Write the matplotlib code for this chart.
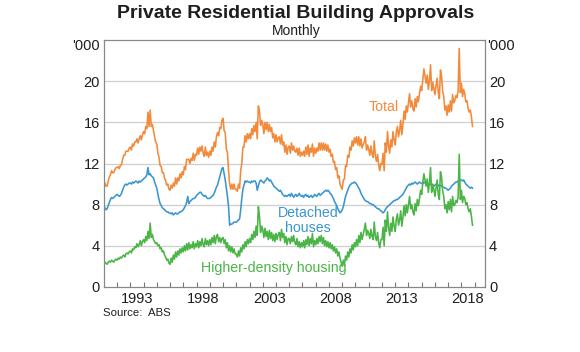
import numpy as np
import matplotlib
matplotlib.use("Agg")
import matplotlib.pyplot as plt
from matplotlib.ticker import FixedLocator

plt.rcParams["font.family"] = ["Liberation Sans", "DejaVu Sans"]

# monthly private approvals, '000, Jan 1991 - Nov 2018
houses = [
    7.9, 7.7, 7.5, 7.6, 7.9, 8.2, 8.5, 8.7, 8.6, 8.7, 8.8, 8.9,          # 1991
    9.0, 8.9, 8.8, 8.9, 9.1, 9.4, 9.7, 9.9, 10.0, 9.9, 10.0, 10.1,       # 1992
    10.1, 10.0, 10.2, 10.1, 10.2, 10.3, 10.2, 10.1, 10.3, 10.2, 10.3, 10.4,
    10.5, 10.6, 10.7, 10.9, 11.6, 10.9, 11.0, 10.8, 10.7, 10.6, 10.2, 9.9,
    9.6, 9.0, 8.5, 8.1, 7.9, 7.7, 7.6, 7.5, 7.4, 7.3, 7.3, 7.2,          # 1995
    7.2, 7.1, 7.2, 7.0, 7.1, 7.2, 7.1, 7.1, 7.2, 7.3, 7.3, 7.4,
    7.5, 7.7, 7.9, 8.2, 8.8, 8.1, 8.3, 8.4, 8.5, 8.6, 8.6, 8.7,
    8.9, 9.0, 9.1, 9.2, 9.2, 9.0, 8.9, 8.8, 8.9, 8.7, 8.6, 8.6,
    8.6, 8.7, 8.8, 8.9, 9.1, 9.4, 9.7, 9.9, 10.3, 10.7, 11.1, 11.5,
    11.6, 11.0, 10.4, 9.6, 8.8, 7.8, 6.0, 6.1, 6.1, 6.2, 6.3, 6.3,       # 2000
    6.3, 6.4, 6.5, 6.6, 7.5, 8.6, 9.5, 9.9, 10.3, 10.2, 10.3, 10.2,
    10.2, 10.1, 10.3, 10.2, 10.3, 10.3, 10.1, 9.4, 9.8, 10.2, 10.4, 10.3,
    10.2, 10.1, 10.3, 10.4, 10.6, 10.5, 10.3, 10.4, 10.2, 10.0, 9.8, 9.7,
    9.6, 9.5, 9.4, 9.3, 9.4, 9.2, 9.0, 8.9, 8.8, 8.9, 8.8, 8.9,
    9.0, 8.8, 9.1, 8.9, 8.7, 8.9, 9.0, 8.8, 8.9, 9.1, 8.9, 8.8,          # 2005
    8.9, 8.7, 8.9, 9.0, 8.8, 8.9, 8.7, 8.8, 8.9, 8.7, 8.8, 9.0,
    8.9, 8.8, 9.0, 9.1, 8.9, 9.0, 9.1, 9.2, 9.3, 9.4, 9.3, 9.4,
    9.3, 9.1, 9.0, 8.8, 8.6, 8.3, 8.1, 7.9, 7.6, 7.4, 7.2, 7.3,
    7.5, 7.8, 8.3, 8.8, 9.1, 9.4, 9.7, 9.9, 10.0, 10.1, 10.1, 10.2,
    10.1, 10.0, 9.8, 9.6, 9.4, 9.1, 8.9, 8.7, 8.5, 8.4, 8.3, 8.3,        # 2010
    8.2, 8.1, 8.1, 8.0, 8.0, 7.9, 7.8, 7.7, 7.6, 7.6, 7.5, 7.4,
    7.3, 7.2, 7.3, 7.5, 7.7, 7.8, 7.9, 8.0, 8.1, 8.2, 8.3, 8.4,
    8.4, 8.5, 8.5, 8.6, 8.7, 8.8, 8.9, 9.0, 9.2, 9.4, 9.6, 9.8,
    9.9, 10.0, 9.9, 10.1, 10.0, 10.1, 10.2, 10.1, 10.0, 10.1, 10.2, 10.1,
    10.1, 10.0, 10.2, 10.1, 10.0, 10.1, 10.0, 9.9, 10.0, 9.9, 9.9, 9.8,  # 2015
    9.9, 10.0, 9.9, 9.9, 9.8, 9.9, 9.8, 9.7, 9.7, 9.6, 9.6, 9.5,
    9.4, 9.5, 9.6, 9.8, 9.9, 10.0, 10.1, 10.2, 10.2, 10.3, 10.3, 10.4,
    10.4, 10.3, 10.4, 10.2, 10.0, 9.9, 9.8, 9.7, 9.6, 9.7, 9.6,          # 2018
]

dense = [
    2.2, 2.4, 2.3, 2.2, 2.4, 2.5, 2.4, 2.6, 2.5, 2.4, 2.6, 2.7,          # 1991
    2.6, 2.8, 2.7, 2.9, 2.8, 3.0, 3.1, 2.9, 3.2, 3.3, 3.2, 3.4,
    3.5, 3.3, 3.7, 3.6, 3.9, 3.8, 4.2, 3.9, 4.1, 4.5, 4.0, 4.4,
    4.6, 4.3, 4.9, 4.5, 5.4, 4.7, 6.2, 4.8, 5.1, 4.6, 4.4, 4.2,
    4.3, 4.0, 4.1, 3.7, 3.8, 3.4, 3.5, 3.1, 2.9, 2.6, 2.7, 2.3,          # 1995
    2.2, 2.8, 2.4, 3.1, 2.7, 3.4, 2.9, 3.5, 3.1, 3.7, 3.3, 3.8,
    3.4, 4.0, 3.5, 4.2, 3.6, 4.3, 3.7, 4.1, 3.8, 4.4, 3.7, 4.2,
    3.9, 4.5, 3.8, 4.4, 4.0, 4.7, 4.1, 3.9, 4.7, 4.1, 4.5, 4.0,
    4.6, 4.1, 4.8, 4.3, 5.0, 4.2, 4.9, 5.1, 4.4, 4.8, 4.3, 4.7,
    4.8, 4.2, 4.6, 3.8, 4.3, 3.5, 4.0, 3.4, 3.9, 3.3, 3.7, 3.2,          # 2000
    3.2, 2.9, 3.5, 3.0, 3.8, 3.4, 4.1, 3.7, 4.4, 3.9, 4.6, 4.2,
    4.7, 4.3, 5.1, 4.6, 5.4, 4.8, 5.9, 5.0, 7.8, 6.9, 5.3, 5.9,
    5.6, 4.8, 5.7, 4.9, 5.4, 4.6, 5.5, 4.7, 5.3, 4.5, 5.1, 4.4,
    5.2, 4.6, 5.1, 5.3, 4.5, 5.6, 4.8, 5.2, 4.3, 4.9, 4.1, 4.7,
    4.7, 4.2, 4.9, 4.4, 5.0, 4.3, 4.1, 4.7, 3.9, 4.4, 3.8, 4.3,          # 2005
    3.9, 4.5, 3.8, 4.6, 4.1, 4.9, 4.0, 4.7, 4.2, 5.2, 3.9, 4.5,
    4.1, 4.7, 4.2, 4.9, 4.4, 5.0, 4.2, 4.8, 4.0, 4.5, 3.9, 4.4,
    3.8, 4.3, 3.7, 4.1, 3.5, 3.9, 3.3, 3.7, 3.0, 3.4, 2.8, 2.4,
    2.0, 2.6, 2.2, 3.0, 2.6, 3.4, 2.9, 3.7, 3.3, 4.1, 3.6, 4.3,
    3.9, 4.6, 4.0, 5.0, 4.3, 5.3, 4.6, 5.1, 5.6, 6.2, 5.0, 5.5,          # 2010
    5.2, 4.7, 5.6, 4.9, 4.6, 6.3, 4.9, 4.5, 5.3, 4.3, 3.8, 4.6,
    4.6, 5.8, 4.0, 6.5, 5.4, 7.3, 5.8, 5.0, 6.2, 5.4, 6.8, 5.9,
    5.4, 6.6, 7.1, 6.0, 6.5, 7.4, 5.9, 6.8, 7.9, 6.9, 8.0, 7.2,
    8.0, 8.8, 7.6, 8.0, 7.3, 7.0, 8.1, 7.4, 8.5, 7.9, 8.6, 9.4,
    9.0, 10.2, 11.0, 10.4, 9.8, 10.5, 9.2, 10.1, 11.6, 9.2, 10.0, 9.5,   # 2015
    8.8, 9.6, 10.4, 9.0, 8.5, 11.2, 10.7, 9.3, 8.8, 7.6, 8.0, 7.2,
    8.3, 7.5, 8.5, 7.3, 8.8, 7.9, 8.0, 8.4, 8.2, 8.8, 12.9, 8.5,
    9.4, 8.2, 8.8, 8.6, 8.0, 8.2, 7.6, 7.3, 7.6, 6.9, 6.0,               # 2018
]

houses = np.array(houses)
dense = np.array(dense)
total = houses + dense
dates = 1991 + np.arange(len(houses)) / 12

year_labels = ["1993", "1998", "2003", "2008", "2013", "2018"]
y_ticks = [0, 4, 8, 12, 16, 20]

c_total = "#f28a3c"
c_house = "#3a96cf"
c_dense = "#4bb446"
ink = "#1e1e1e"

fig = plt.figure(figsize=(5.8, 3.52), dpi=100)
ax = fig.add_axes([0.179, 0.185, 0.657, 0.701])

ax.plot(dates, total, color=c_total, lw=1.15)
ax.plot(dates, houses, color=c_house, lw=1.15)
ax.plot(dates, dense, color=c_dense, lw=1.15)

ax.set_xlim(1991, 2019.77)
ax.set_ylim(0, 24)

ax.set_yticks(y_ticks)
ax.tick_params(axis="y", length=0, labelsize=10.5, pad=3,
               labelleft=True, labelright=True, colors=ink)
for v in [4, 8, 12, 16, 20]:
    ax.axhline(v, color="#cfcfcf", lw=0.9, zorder=0)

ax.xaxis.set_major_locator(FixedLocator(range(1992, 2020)))
ax.xaxis.set_minor_locator(FixedLocator([int(y) + 0.5 for y in year_labels]))
ax.set_xticklabels([], minor=False)
ax.set_xticklabels(year_labels, minor=True)
ax.tick_params(axis="x", which="major", direction="in", length=3.5,
               color="#777777", width=0.8)
ax.tick_params(axis="x", which="minor", length=0, labelsize=10.5, pad=4,
               colors=ink)

for s in ax.spines.values():
    s.set_color("#888888")
    s.set_linewidth(0.9)

ax.text(-0.010, 23.4, "'000", transform=ax.get_yaxis_transform(),
        ha="right", va="center", fontsize=10.5, color=ink)
ax.text(1.006, 23.4, "'000", transform=ax.get_yaxis_transform(),
        ha="left", va="center", fontsize=10.5, color=ink)

ax.text(2012.1, 17.5, "Total", color=c_total, fontsize=10.2,
        ha="center", va="center")
ax.text(2006.4, 6.5, "Detached\nhouses", color=c_house, fontsize=10.2,
        ha="center", va="center", linespacing=1.1)
ax.text(2003.85, 1.85, "Higher-density housing", color=c_dense, fontsize=10.2,
        ha="center", va="center")

fig.text(0.510, 0.962, "Private Residential Building Approvals",
         ha="center", va="center", fontsize=14, fontweight="bold", color=ink)
fig.text(0.510, 0.912, "Monthly", ha="center", va="center", fontsize=10,
         color=ink)
fig.text(0.178, 0.111, "Source:  ABS", ha="left", va="center", fontsize=8.2,
         color=ink)

fig.savefig("out.png", dpi=100)
